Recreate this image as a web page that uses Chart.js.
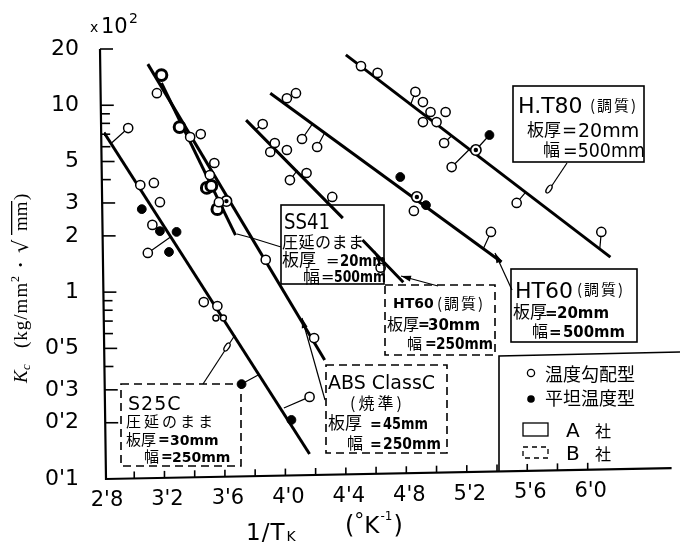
<!DOCTYPE html>
<html><head><meta charset="utf-8">
<script src="https://cdn.jsdelivr.net/npm/chart.js@4"></script>
<style>html,body{margin:0;padding:0;background:#fff}canvas{display:block}</style>
</head><body>
<canvas id="c" width="680" height="545"></canvas>
<script>
// ---------- axis ticks ----------
const yTickVals   = [0.1, 0.2, 0.3, 0.5, 1, 2, 3, 5, 10, 20];
const yTickLabels = ["0'1", "0'2", "0'3", "0'5", "1", "2", "3", "5", "10", "20"];
const yMinorVals  = [0.4, 0.6, 0.7, 0.8, 0.9, 4, 6, 7, 8, 9];
const xTickVals   = [2.8, 3.2, 3.6, 4.0, 4.4, 4.8, 5.2, 5.6, 6.0];
const xTickLabels = ["2'8", "3'2", "3'6", "4'0", "4'4", "4'8", "5'2", "5'6", "6'0"];
const xMinorVals  = [3.0, 3.4, 3.8, 4.2, 4.6, 5.0, 5.4, 5.8];

// ---------- S25C (B社) ----------
const s25cOpenX   = [2.96, 3.04, 3.13, 3.17, 3.12, 3.09, 3.46, 3.55, 4.16];
const s25cOpenY   = [7.55, 3.74, 3.84, 3.03, 2.29, 1.62, 0.885, 0.843, 0.275];
const s25cSmallX  = [3.54, 3.59];
const s25cSmallY  = [0.727, 0.727];
const s25cFilledX = [3.05, 3.17, 3.28, 3.23, 3.71, 4.04];
const s25cFilledY = [2.78, 2.12, 2.10, 1.64, 0.322, 0.207];
const s25cLineX   = [2.80, 4.16];
const s25cLineY   = [7.15, 0.136];

// ---------- SS41 (A社) / ABS ClassC (B社) ----------
const ss41ThickX  = [3.18, 3.30, 3.48, 3.51, 3.55];
const ss41ThickY  = [14.5, 7.64, 3.61, 3.70, 2.78];
const ss41OpenX   = [3.15, 3.37, 3.44, 3.53, 3.50, 3.56, 3.87, 4.19];
const ss41OpenY   = [11.6, 6.76, 7.01, 4.91, 4.23, 3.03, 1.49, 0.568];
const ss41RingX   = [3.61];
const ss41RingY   = [3.07];
const ss41LineX   = [3.18, 3.67];
const ss41LineY   = [13.15, 2.02];
const absLineX    = [3.09, 4.26];
const absLineY    = [16.6, 0.433];

// ---------- HT60 30mm (B社) ----------
const ht60bOpenX  = [3.85, 3.93, 3.90, 4.01, 4.03, 4.14, 4.31, 4.63];
const ht60bOpenY  = [7.93, 6.28, 5.62, 5.76, 3.98, 4.34, 3.23, 1.35];
const ht60bLineX  = [3.74, 4.38, null, 4.51, 4.78];
const ht60bLineY  = [8.33, 2.49, null, 1.90, 1.13];

// ---------- HT60 20mm (A社) ----------
const ht60aOpenX   = [4.01, 4.07, 4.11, 4.21, 4.85, 5.36];
const ht60aOpenY   = [10.9, 11.6, 6.60, 5.98, 2.72, 2.10];
const ht60aFilledX = [4.76, 4.93];
const ht60aFilledY = [4.13, 2.92];
const ht60aRingX   = [4.87];
const ht60aRingY   = [3.23];
const ht60aLineX   = [3.90, 5.43];
const ht60aLineY   = [11.6, 1.45];

// ---------- HT80 (A社) ----------
const ht80OpenX   = [4.50, 4.61, 4.86, 4.91, 4.96, 5.06, 4.91, 5.00, 5.05, 5.10, 5.53, 6.09];
const ht80OpenY   = [16.2, 14.9, 11.8, 10.4, 9.20, 9.20, 8.13, 8.13, 6.28, 4.67, 3.00, 2.10];
const ht80FilledX = [5.35];
const ht80FilledY = [6.93];
const ht80RingX   = [5.26];
const ht80RingY   = [5.76];
const ht80LineX   = [4.40, 6.15];
const ht80LineY   = [18.6, 1.54];

// ---------- short ticks joining points to their line ----------
const connFromX = [2.96, 3.09, 3.71, 4.16, 3.85, 4.14, 4.03, 4.63, 4.31, 4.11, 4.21, 5.36, 5.05, 5.10, 5.53, 6.09, 5.35, 4.86];
const connFromY = [7.55, 1.62, 0.322, 0.275, 7.93, 4.34, 3.98, 1.35, 3.23, 6.60, 5.98, 2.10, 6.28, 4.67, 3.00, 2.10, 6.93, 11.8];
const connToX   = [2.85, 3.24, 3.82, 3.99, 3.80, 4.09, 4.08, 4.59, 4.27, 4.18, 4.26, 5.31, 5.10, 5.22, 5.59, 6.08, 5.26, 4.83];
const connToY   = [6.28, 1.97, 0.360, 0.240, 7.37, 4.23, 4.50, 1.66, 3.00, 7.98, 7.12, 1.71, 6.87, 5.83, 3.43, 1.71, 5.76, 10.15];

// ---------- helpers ----------
const pts = (xs, ys) => xs.map((x, i) => (x === null ? {x: null, y: null} : {x: x, y: ys[i]}));
const connData = [];
connFromX.forEach((x, i) => {
  connData.push({x: x, y: connFromY[i]}, {x: connToX[i], y: connToY[i]}, {x: null, y: null});
});

const lineDS = (xs, ys) => ({data: pts(xs, ys), showLine: true, borderColor: '#000', borderWidth: 3,
  pointRadius: 0, spanGaps: false, order: 5});
const openDS = (xs, ys, r = 4.6, bw = 1.5) => ({data: pts(xs, ys), showLine: false, pointRadius: r,
  pointBorderWidth: bw, pointBorderColor: '#000', pointBackgroundColor: '#fff', order: 2});
const filledDS = (xs, ys) => ({data: pts(xs, ys), showLine: false, pointRadius: 4.4,
  pointBorderWidth: 1, pointBorderColor: '#000', pointBackgroundColor: '#000', order: 1});
const dotDS = (xs, ys) => ({data: pts(xs, ys), showLine: false, pointRadius: 2.2,
  pointBorderWidth: 0, pointBackgroundColor: '#000', order: 0});

const datasets = [
  lineDS(s25cLineX, s25cLineY),
  lineDS(ss41LineX, ss41LineY),
  lineDS(absLineX, absLineY),
  lineDS(ht60bLineX, ht60bLineY),
  lineDS(ht60aLineX, ht60aLineY),
  lineDS(ht80LineX, ht80LineY),
  {data: connData, showLine: true, borderColor: '#000', borderWidth: 1.2, pointRadius: 0, spanGaps: false, order: 4},
  openDS(s25cOpenX, s25cOpenY),
  openDS(s25cSmallX, s25cSmallY, 3, 1.4),
  openDS(ss41OpenX, ss41OpenY),
  openDS(ss41ThickX, ss41ThickY, 5.4, 3),
  openDS(ht60bOpenX, ht60bOpenY),
  openDS(ht60aOpenX, ht60aOpenY),
  openDS(ht80OpenX, ht80OpenY),
  openDS(ss41RingX, ss41RingY, 5.2, 1.6),
  openDS(ht60aRingX, ht60aRingY, 5.2, 1.6),
  openDS(ht80RingX, ht80RingY, 5.2, 1.6),
  filledDS(s25cFilledX, s25cFilledY),
  filledDS(ht60aFilledX, ht60aFilledY),
  filledDS(ht80FilledX, ht80FilledY),
  dotDS(ss41RingX, ss41RingY),
  dotDS(ht60aRingX, ht60aRingY),
  dotDS(ht80RingX, ht80RingY)
];

const JP = '"Noto Sans CJK JP"';
const LAT = '"DejaVu Sans"';

// ---------- decorations: axes, boxes, texts ----------
const deco = {
  id: 'deco',
  afterDraw(chart) {
    const ctx = chart.ctx;
    const xs = chart.scales.x, ys = chart.scales.y;
    const ca = chart.chartArea;
    const tiltX = 11 / 576, tiltY = 6 / 430;
    const yAxisX = py => ca.left + 2 - (ca.bottom - py) * tiltY;
    const xAxisY = px => ca.bottom - (px - ca.left - 2) * tiltX;

    ctx.save();
    ctx.strokeStyle = '#000'; ctx.fillStyle = '#000';
    ctx.lineCap = 'butt';
    // axis lines
    ctx.lineWidth = 2.2;
    ctx.beginPath();
    ctx.moveTo(yAxisX(ca.top), ca.top); ctx.lineTo(yAxisX(ca.bottom), ca.bottom);
    ctx.lineTo(ca.right, xAxisY(ca.right));
    ctx.stroke();
    // y ticks
    ctx.lineWidth = 1.6;
    yTickVals.forEach(v => { const py = ys.getPixelForValue(v); if (v === 0.1) return;
      ctx.beginPath(); ctx.moveTo(yAxisX(py), py); ctx.lineTo(yAxisX(py) + 13, py); ctx.stroke(); });
    yMinorVals.forEach(v => { const py = ys.getPixelForValue(v);
      ctx.beginPath(); ctx.moveTo(yAxisX(py), py); ctx.lineTo(yAxisX(py) + 9, py); ctx.stroke(); });
    // x ticks + labels
    [...xTickVals.slice(1), ...xMinorVals].forEach(v => { const px = xs.getPixelForValue(v);
      ctx.beginPath(); ctx.moveTo(px, xAxisY(px)); ctx.lineTo(px, xAxisY(px) - 7); ctx.stroke(); });
    ctx.font = '21px ' + LAT; ctx.textAlign = 'center'; ctx.textBaseline = 'middle';
    xTickVals.forEach((v, i) => { const px = xs.getPixelForValue(v);
      ctx.fillText(xTickLabels[i], px + 3, xAxisY(px) + 22); });
    ctx.textAlign = 'left'; ctx.textBaseline = 'alphabetic';

    const T = (s, x, y, font, ls, w) => {
      ctx.font = font; ctx.letterSpacing = (ls || 0) + 'px';
      if (w) ctx.fillText(s, x, y, w); else ctx.fillText(s, x, y);
      const m = w ? Math.min(w, ctx.measureText(s).width) : ctx.measureText(s).width;
      ctx.letterSpacing = '0px';
      return x + m;
    };
    const box = (x1, y1, x2, y2, dashed) => {
      ctx.save(); ctx.lineWidth = 1.6; if (dashed) ctx.setLineDash([8, 5]);
      ctx.strokeRect(x1, y1, x2 - x1, y2 - y1); ctx.restore();
    };
    const poly = (p, w) => {
      ctx.save(); ctx.lineWidth = w || 1.2; ctx.beginPath(); ctx.moveTo(p[0][0], p[0][1]);
      for (let i = 1; i < p.length; i++) ctx.lineTo(p[i][0], p[i][1]); ctx.stroke(); ctx.restore();
    };
    const arrow = (x1, y1, x2, y2) => {
      poly([[x1, y1], [x2, y2]]);
      const a = Math.atan2(y2 - y1, x2 - x1);
      ctx.beginPath(); ctx.moveTo(x2, y2);
      ctx.lineTo(x2 - 10 * Math.cos(a) + 3 * Math.sin(a), y2 - 10 * Math.sin(a) - 3 * Math.cos(a));
      ctx.lineTo(x2 - 10 * Math.cos(a) - 3 * Math.sin(a), y2 - 10 * Math.sin(a) + 3 * Math.cos(a));
      ctx.closePath(); ctx.fill();
    };
    const ell = (x, y, a) => {
      ctx.save(); ctx.lineWidth = 1.3; ctx.fillStyle = '#fff'; ctx.beginPath();
      ctx.ellipse(x, y, 4.5, 2.2, a, 0, Math.PI * 2); ctx.fill(); ctx.stroke(); ctx.restore();
    };

    // "x10^2"
    T('x', 90, 32, '14px ' + LAT);
    T('10', 101, 33, '21px ' + LAT, 0, 27);
    T('2', 129, 23, '14px ' + LAT);

    // y title (rotated)
    ctx.save(); ctx.translate(27, 383); ctx.rotate(-Math.PI / 2);
    T('K', 0, 0, 'italic 19px "Liberation Serif"');
    T('c', 13, 3, 'italic 13px "Liberation Serif"');
    T('(kg/mm', 35, 0, '19px "Liberation Serif"', 1);
    T('2', 101, -8, '12px "Liberation Serif"');
    T('·', 115, 0, 'bold 19px "Liberation Serif"');
    T('√', 130, 1, '21px "DejaVu Serif"');
    T('mm', 152, 0, '19px "Liberation Serif"');
    ctx.fillRect(148, -16, 34, 1.3);
    T(')', 183, 0, '19px "Liberation Serif"');
    ctx.restore();

    // x title
    let xe = T('1/T', 246, 540, '23px ' + LAT, 1);
    T('K', xe + 1, 541, '14px ' + LAT);
    xe = T('(', 345, 533, '24px ' + LAT);
    xe = T('°', xe, 527, '20px ' + LAT);
    xe = T('K', xe, 533, '23px ' + LAT);
    xe = T('-1', xe + 1, 520, '12px ' + LAT);
    T(')', xe + 1, 533, '24px ' + LAT);

    // ----- SS41 box (A社) -----
    box(281, 205, 384, 284, false);
    T('SS41', 284, 229, '22px ' + LAT, 0, 46);
    T('圧延のまま', 282, 248, '16px ' + JP, 0.5);
    T('板厚', 282, 266, '17px ' + JP);
    T('=', 326, 266, '16px ' + LAT);
    T('20mm', 340, 266, 'bold 15px ' + LAT, 0, 46);
    T('幅', 303, 283, '17px ' + JP);
    T('=', 321, 282, '16px ' + LAT);
    T('500mm', 334, 282, 'bold 15px ' + LAT, 0, 52);
    poly([[281, 247], [252, 238], [237, 234]]);

    // ----- HT80 box (A社) -----
    box(513, 86, 644, 162, false);
    T('H.T80', 518, 113, '22px ' + LAT, 0, 70);
    T('(調質)', 590, 111, '15px ' + JP, 2);
    T('板厚', 527, 136, '17px ' + JP);
    T('=', 562, 136, '18px ' + LAT);
    T('20mm', 578, 137, '19px ' + LAT, 0, 62);
    T('幅', 543, 156, '17px ' + JP);
    T('=500mm', 563, 157, '19px ' + LAT, 0, 82);
    poly([[567, 163], [547, 193]]);
    ell(549, 189, Math.atan2(30, -20));

    // ----- HT60 20mm box (A社) -----
    box(511, 269, 637, 342, false);
    T('HT60', 515, 298, '22px ' + LAT, 0, 58);
    T('(調質)', 577, 295, '15px ' + JP, 2);
    T('板厚', 513, 318, '17px ' + JP);
    T('=', 545, 318, 'bold 15px ' + LAT);
    T('20mm', 557, 318, 'bold 15px ' + LAT, 0, 58);
    T('幅', 532, 337, '16px ' + JP);
    T('=', 549, 337, 'bold 15px ' + LAT);
    T('500mm', 563, 337, 'bold 15px ' + LAT, 0, 62);
    arrow(512, 290, 495, 253);

    // ----- HT60 30mm box (B社) -----
    box(385, 285, 495, 355, true);
    T('HT60', 393, 308, 'bold 14px ' + LAT, 0, 42);
    T('(調質)', 437, 309, '15px ' + JP, 2);
    T('板厚', 387, 330, '16px ' + JP);
    T('=', 418, 329, 'bold 14px ' + LAT);
    T('30mm', 428, 330, 'bold 15px ' + LAT, 0, 57);
    T('幅', 407, 349, '15px ' + JP);
    T('=', 425, 348, 'bold 14px ' + LAT);
    T('250mm', 436, 349, 'bold 15px ' + LAT, 0, 57);
    arrow(438, 286, 401, 276);

    // ----- ABS ClassC box (B社) -----
    box(326, 365, 447, 453, true);
    T('ABS ClassC', 328, 389, '19px ' + LAT, 0, 110);
    T('(焼準)', 350, 409, '16px ' + JP, 3);
    T('板厚', 328, 429, '17px ' + JP);
    T('=', 370, 429, 'bold 14px ' + LAT);
    T('45mm', 383, 429, 'bold 15px ' + LAT, 0, 45);
    T('幅', 347, 449, '16px ' + JP);
    T('=', 370, 449, 'bold 14px ' + LAT);
    T('250mm', 383, 449, 'bold 15px ' + LAT, 0, 58);
    arrow(325, 400, 302, 318);

    // ----- S25C box (B社) -----
    box(121, 384, 241, 466, true);
    T('S25C', 128, 410, '19px ' + LAT, 1, 56);
    T('圧延のまま', 126, 427, '15px ' + JP, 3);
    T('板厚', 126, 445, '15px ' + JP);
    T('=', 158, 444, 'bold 14px ' + LAT);
    T('30mm', 170, 445, 'bold 14px ' + LAT, 0, 52);
    T('幅', 144, 462, '15px ' + JP);
    T('=', 161, 461, 'bold 14px ' + LAT);
    T('250mm', 172, 462, 'bold 14px ' + LAT, 0, 62);
    poly([[203, 384], [235, 335]]);
    ell(227, 347, Math.atan2(-49, 32));

    // ----- legend -----
    ctx.save(); ctx.lineWidth = 1.6;
    ctx.beginPath(); ctx.moveTo(499, xAxisY(499)); ctx.lineTo(499, 356); ctx.lineTo(680, 352); ctx.stroke();
    ctx.lineWidth = 1.3; ctx.fillStyle = '#fff';
    ctx.beginPath(); ctx.arc(531, 373, 3.6, 0, Math.PI * 2); ctx.fill(); ctx.stroke();
    ctx.fillStyle = '#000';
    ctx.beginPath(); ctx.arc(531, 399, 3.8, 0, Math.PI * 2); ctx.fill();
    ctx.strokeRect(523, 423, 25, 13);
    ctx.setLineDash([5, 4]); ctx.strokeRect(523, 447, 25, 11);
    ctx.restore();
    T('温度勾配型', 545, 381, '18px ' + JP);
    T('平坦温度型', 545, 405, '18px ' + JP);
    T('A', 566, 437, '20px ' + LAT);
    T('社', 595, 437, '16px ' + JP);
    T('B', 566, 460, '20px ' + LAT);
    T('社', 595, 460, '16px ' + JP);

    ctx.restore();
  }
};

new Chart(document.getElementById('c'), {
  type: 'scatter',
  data: {datasets: datasets},
  options: {
    responsive: false,
    animation: false,
    devicePixelRatio: 1,
    layout: {padding: {top: 49, left: 0, right: 0, bottom: 0}},
    plugins: {legend: {display: false}, tooltip: {enabled: false}},
    scales: {
      x: {
        type: 'linear', min: 2.8, max: 6.555,
        grid: {display: false}, border: {display: false},
        ticks: {display: false},
        afterBuildTicks: s => { s.ticks = xTickVals.map(v => ({value: v})); },
        afterFit: s => { s.height = 66; }
      },
      y: {
        type: 'logarithmic', min: 0.1, max: 20,
        grid: {display: false}, border: {display: false},
        ticks: {padding: 17, color: '#000', autoSkip: false, font: {family: 'DejaVu Sans', size: 22},
          callback: (v, i) => yTickLabels[i]},
        afterBuildTicks: s => { s.ticks = yTickVals.map(v => ({value: v})); },
        afterFit: s => { s.width = 104; }
      }
    }
  },
  plugins: [deco]
});
</script>
</body></html>
